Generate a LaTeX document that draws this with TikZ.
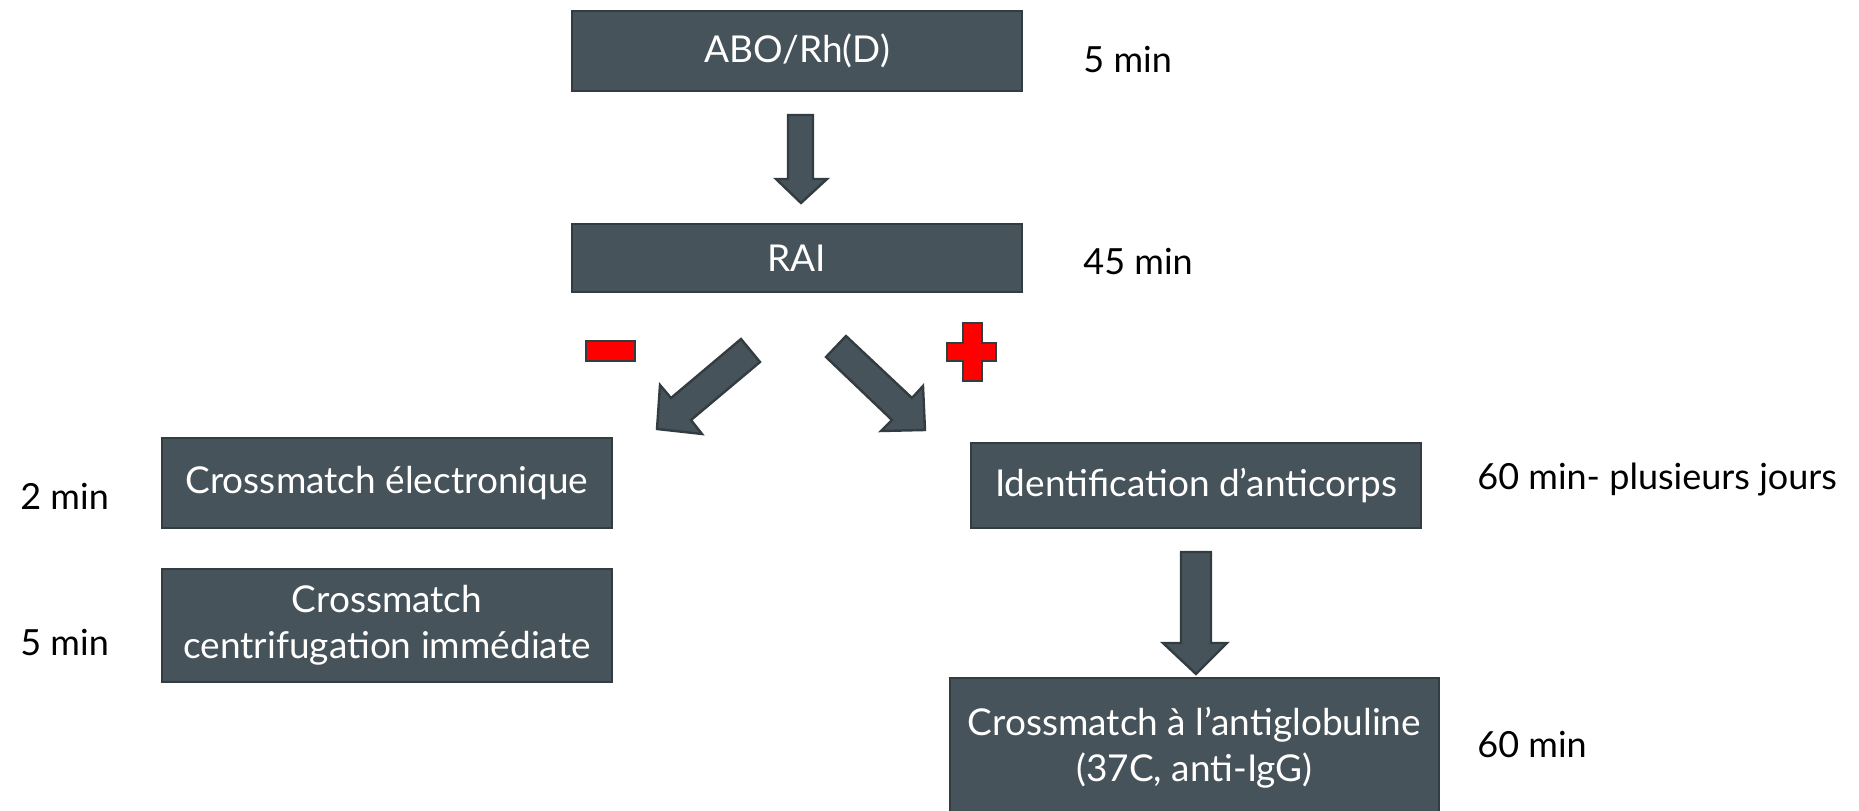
\documentclass[tikz,border=0pt]{standalone}
\usepackage{fontspec}
\setmainfont{Lato}
\definecolor{boxfill}{HTML}{47535A}
\definecolor{boxline}{HTML}{323C41}
\definecolor{signred}{HTML}{FF0000}
\begin{document}
\begin{tikzpicture}[x=0.5pt,y=-0.5pt,
  box/.style={draw=boxline,fill=boxfill,line width=1.2pt,text=white,
    font=\fontsize{18.5}{23}\selectfont,align=center,inner sep=0pt},
  blk/.style={draw=boxline,fill=boxfill,line width=1.2pt,line join=miter},
  sign/.style={draw=boxline,fill=signred,line width=1.2pt},
  side/.style={font=\fontsize{18}{21}\selectfont,anchor=base west,inner sep=0pt,text=black}]
\useasboundingbox (0,0) rectangle (1859,810);
\clip (0,0) rectangle (1859,810);
% boxes
\node[box,minimum width=225pt,minimum height=40pt] (abo) at (797,51) {ABO/Rh(D)};
\node[box,minimum width=225pt,minimum height=34pt] (rai) at (797,258) {RAI};
\node[box,minimum width=225pt,minimum height=45pt] (elec) at (387,483) {Crossmatch électronique};
\node[box,minimum width=225pt,minimum height=56.5pt] (centr) at (387,625.5) {Crossmatch\\centrifugation immédiate};
\node[box,minimum width=225pt,minimum height=42.5pt] (ident) at (1196,485.5) {Identification d’anticorps};
\node[box,minimum width=244.5pt,minimum height=70pt] (agl) at (1194.5,748) {Crossmatch à l’antiglobuline\\(37C, anti-IgG)};
% side times
\node[side] (t1) at (1083,72) {5 min};
\node[side] (t2) at (1083,274) {45 min};
\node[side] (t3) at (20,509) {2 min};
\node[side] (t4) at (20,655) {5 min};
\node[side] (t5) at (1477,489) {60 min- plusieurs jours};
\node[side] (t6) at (1477,757) {60 min};
% block arrows
\draw[blk] (788,115) -- (788,179) -- (776,179) -- (801,203) -- (827,179) -- (813,179) -- (813,115) -- cycle;
\draw[blk] (760,362) -- (691,420) -- (702,434) -- (657,429) -- (660,385) -- (671,398) -- (741,339) -- cycle;
\draw[blk] (826,357) -- (892,420) -- (881,431) -- (925,430) -- (923,386) -- (912,398) -- (846,336) -- cycle;
\draw[blk] (1181,552) -- (1181,643) -- (1163,643) -- (1196,674) -- (1227,643) -- (1211,643) -- (1211,552) -- cycle;
% signs
\draw[sign] (586,341) rectangle (635,361);
\draw[sign] (963,323) -- (982,323) -- (982,343) -- (996,343) -- (996,361) -- (982,361) -- (982,381) -- (963,381) -- (963,361) -- (947,361) -- (947,343) -- (963,343) -- cycle;
\end{tikzpicture}
\end{document}
